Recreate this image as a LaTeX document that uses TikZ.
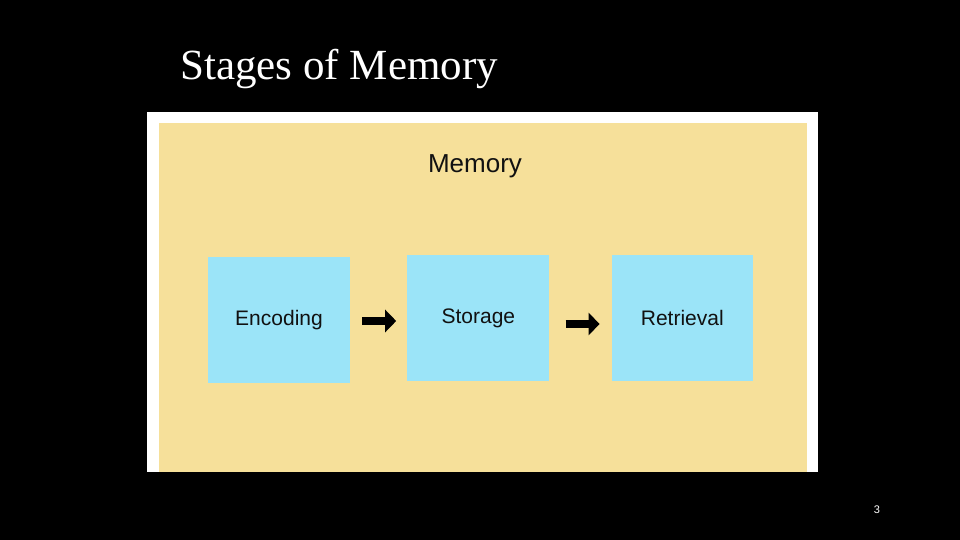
\documentclass[tikz,border=0pt]{standalone}
\usepackage{fontspec}
\setmainfont{Liberation Serif}
\setsansfont{Liberation Sans}
\usepackage{xcolor}
\usepackage{tikz}
\usetikzlibrary{arrows.meta, positioning}
\definecolor{panelyellow}{HTML}{F6E09A}
\definecolor{stageblue}{HTML}{9BE4F8}
\definecolor{labelink}{HTML}{111111}
\tikzset{
    stage/.style={rectangle, fill=stageblue, minimum width=142pt, minimum height=126pt, inner sep=0pt, font=\sffamily\fontsize{21}{24}\selectfont, text=labelink},
    heading/.style={font=\sffamily\fontsize{26}{30}\selectfont, text=labelink, inner sep=0pt},
    blockarrow/.style={-{Triangle[length=11pt, width=22pt]}, line width=8pt, black, shorten <=12pt, shorten >=11pt},
}

\begin{document}
\begin{tikzpicture}[x=1pt, y=-1pt, node distance=57pt]
        % Slide
        \fill[black] (0,0) rectangle (960,540);
        \useasboundingbox (0,0) rectangle (960,540);
        \node[anchor=base west, text=white, inner sep=0pt, font=\fontsize{43}{48}\selectfont] (title) at (180,80) {Stages of Memory};
        \node[text=white, inner sep=0pt, font=\sffamily\fontsize{11}{13}\selectfont] (pagenum) at (877,510) {3};

        % Panel
        \fill[white] (147,112) rectangle (818,472);
        \fill[panelyellow] (159,123) rectangle (807,472);
        \node[heading] (memory) at (475,166) {Memory};

        % Stages
        \node[stage] (encoding) at (279,320) {Encoding};
        \node[stage, right=57pt of encoding, yshift=2pt] (storage) {Storage};
        \node[stage, right=62pt of storage, minimum width=141pt] (retrieval) {Retrieval};

        % Arrows
        \draw[blockarrow] ([yshift=-1pt]encoding.east) -- ([yshift=-1pt]storage.west |- encoding.east);
        \draw[blockarrow, shorten <=16pt, shorten >=12pt] ([yshift=-6pt]storage.east) -- ([yshift=-6pt]retrieval.west);
    \end{tikzpicture}
\end{document}
